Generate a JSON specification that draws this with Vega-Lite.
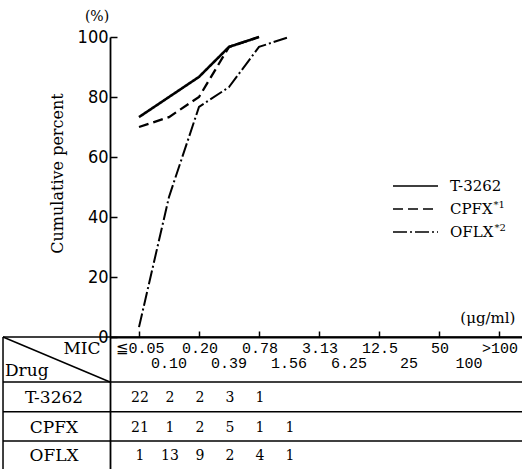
{
  "$schema": "https://vega.github.io/schema/vega-lite/v6.json",
  "autosize": {"type": "none"},
  "padding": {"left": 110, "top": 37, "right": 0, "bottom": 0},
  "width": 412,
  "height": 432,
  "background": "white",
  "config": {
    "view": {"stroke": null},
    "text": {"color": "black", "font": "DejaVu Serif", "baseline": "middle"},
    "rule": {"color": "black", "strokeWidth": 1.5}
  },
  "datasets": {
    "one": [{}],
    "cum": [
      {"drug": "T-3262", "mic": "≦0.05", "col": 0, "pct": 73.3},
      {"drug": "T-3262", "mic": "0.10", "col": 1, "pct": 80.0},
      {"drug": "T-3262", "mic": "0.20", "col": 2, "pct": 86.7},
      {"drug": "T-3262", "mic": "0.39", "col": 3, "pct": 96.7},
      {"drug": "T-3262", "mic": "0.78", "col": 4, "pct": 100.0},
      {"drug": "CPFX", "mic": "≦0.05", "col": 0, "pct": 70.0},
      {"drug": "CPFX", "mic": "0.10", "col": 1, "pct": 73.3},
      {"drug": "CPFX", "mic": "0.20", "col": 2, "pct": 80.0},
      {"drug": "CPFX", "mic": "0.39", "col": 3, "pct": 96.7},
      {"drug": "CPFX", "mic": "0.78", "col": 4, "pct": 100.0},
      {"drug": "OFLX", "mic": "≦0.05", "col": 0, "pct": 3.3},
      {"drug": "OFLX", "mic": "0.10", "col": 1, "pct": 46.7},
      {"drug": "OFLX", "mic": "0.20", "col": 2, "pct": 76.7},
      {"drug": "OFLX", "mic": "0.39", "col": 3, "pct": 83.3},
      {"drug": "OFLX", "mic": "0.78", "col": 4, "pct": 96.7},
      {"drug": "OFLX", "mic": "1.56", "col": 5, "pct": 100.0}
    ],
    "counts": [
      {"drug": "T-3262", "col": 0, "n": 22},
      {"drug": "T-3262", "col": 1, "n": 2},
      {"drug": "T-3262", "col": 2, "n": 2},
      {"drug": "T-3262", "col": 3, "n": 3},
      {"drug": "T-3262", "col": 4, "n": 1},
      {"drug": "CPFX", "col": 0, "n": 21},
      {"drug": "CPFX", "col": 1, "n": 1},
      {"drug": "CPFX", "col": 2, "n": 2},
      {"drug": "CPFX", "col": 3, "n": 5},
      {"drug": "CPFX", "col": 4, "n": 1},
      {"drug": "CPFX", "col": 5, "n": 1},
      {"drug": "OFLX", "col": 0, "n": 1},
      {"drug": "OFLX", "col": 1, "n": 13},
      {"drug": "OFLX", "col": 2, "n": 9},
      {"drug": "OFLX", "col": 3, "n": 2},
      {"drug": "OFLX", "col": 4, "n": 4},
      {"drug": "OFLX", "col": 5, "n": 1}
    ],
    "mic": [
      {"col": 0, "mic": "≦0.05", "tier": "upper"},
      {"col": 1, "mic": "0.10", "tier": "lower"},
      {"col": 2, "mic": "0.20", "tier": "upper"},
      {"col": 3, "mic": "0.39", "tier": "lower"},
      {"col": 4, "mic": "0.78", "tier": "upper"},
      {"col": 5, "mic": "1.56", "tier": "lower"},
      {"col": 6, "mic": "3.13", "tier": "upper"},
      {"col": 7, "mic": "6.25", "tier": "lower"},
      {"col": 8, "mic": "12.5", "tier": "upper"},
      {"col": 9, "mic": "25", "tier": "lower"},
      {"col": 10, "mic": "50", "tier": "upper"},
      {"col": 11, "mic": "100", "tier": "lower"},
      {"col": 12, "mic": ">100", "tier": "upper"}
    ]
  },
  "layer": [
    {
      "data": {"name": "cum"},
      "mark": {"type": "line", "color": "black", "strokeCap": "butt"},
      "encoding": {
        "x": {
          "field": "col", "type": "quantitative",
          "scale": {"domain": [-0.9667, 12.767], "nice": false, "zero": false},
          "axis": {
            "orient": "bottom", "offset": -132, "values": [0,1,2,3,4,5,6,7,8,9,10,11,12],
            "labels": false, "title": null, "grid": false,
            "tickSize": -6, "tickWidth": 1.5, "tickColor": "black",
            "domainColor": "black", "domainWidth": 1.8
          }
        },
        "y": {
          "field": "pct", "type": "quantitative",
          "scale": {"domain": [-44, 100], "nice": false, "zero": false},
          "axis": {
            "values": [0, 20, 40, 60, 80, 100], "grid": false,
            "tickSize": -7, "tickWidth": 1.5, "tickColor": "black",
            "domainColor": "black", "domainWidth": 1.8,
            "labelFont": "Liberation Sans Narrow, DejaVu Sans Condensed, sans-serif",
            "labelFontSize": 18, "labelColor": "black", "labelPadding": 9,
            "title": "Cumulative percent", "titleFont": "DejaVu Serif",
            "titleFontSize": 16, "titleFontWeight": "normal", "titleColor": "black",
            "titleX": -53, "titleY": 136, "titleBaseline": "middle", "titleAlign": "center", "titleAngle": -90
          }
        },
        "strokeDash": {
          "field": "drug", "type": "nominal",
          "scale": {"domain": ["T-3262", "CPFX", "OFLX"], "range": [[1, 0], [10, 5], [14, 3, 2, 3]]},
          "legend": null
        },
        "strokeWidth": {
          "field": "drug", "type": "nominal",
          "scale": {"domain": ["T-3262", "CPFX", "OFLX"], "range": [2.6, 2, 2]},
          "legend": null
        }
      }
    },
    {"data": {"name": "one"}, "mark": "rule", "encoding": {"x": {"datum": -4.533}, "x2": {"datum": 12.767}, "y": {"datum": 0}}},
    {"data": {"name": "one"}, "mark": "rule", "encoding": {"x": {"datum": -4.533}, "x2": {"datum": 12.767}, "y": {"datum": -15}}},
    {"data": {"name": "one"}, "mark": "rule", "encoding": {"x": {"datum": -4.533}, "x2": {"datum": 12.767}, "y": {"datum": -24.9}}},
    {"data": {"name": "one"}, "mark": "rule", "encoding": {"x": {"datum": -4.533}, "x2": {"datum": 12.767}, "y": {"datum": -34.67}}},
    {"data": {"name": "one"}, "mark": "rule", "encoding": {"x": {"datum": -4.533}, "y": {"datum": 0}, "y2": {"datum": -44}}},
    {"data": {"name": "one"}, "mark": "rule", "encoding": {"x": {"datum": -4.533}, "y": {"datum": 0}, "x2": {"datum": -0.9667}, "y2": {"datum": -15}}},
    {
      "data": {"name": "one"},
      "mark": {"type": "text", "fontSize": 17, "align": "center"},
      "encoding": {"x": {"datum": -1.9}, "y": {"datum": -4}, "text": {"value": "MIC"}}
    },
    {
      "data": {"name": "one"},
      "mark": {"type": "text", "fontSize": 17, "align": "left"},
      "encoding": {"x": {"datum": -4.467}, "y": {"datum": -11.3}, "text": {"value": "Drug"}}
    },
    {
      "data": {"name": "mic"},
      "transform": [{"filter": "datum.tier == 'upper'"}],
      "mark": {"type": "text", "font": "Liberation Mono", "fontSize": 15, "align": "center", "dx": 1},
      "encoding": {"x": {"field": "col", "type": "quantitative"}, "y": {"datum": -3.67}, "text": {"field": "mic"}}
    },
    {
      "data": {"name": "mic"},
      "transform": [{"filter": "datum.tier == 'lower'"}],
      "mark": {"type": "text", "font": "Liberation Mono", "fontSize": 15, "align": "center", "dx": 0},
      "encoding": {"x": {"field": "col", "type": "quantitative"}, "y": {"datum": -8.67}, "text": {"field": "mic"}}
    },
    {
      "data": {"name": "counts"},
      "transform": [{"filter": "datum.drug == 'T-3262'"}],
      "mark": {"type": "text", "fontSize": 14, "align": "center", "dx": 1},
      "encoding": {"x": {"field": "col", "type": "quantitative"}, "y": {"datum": -20.2}, "text": {"field": "n"}}
    },
    {
      "data": {"name": "counts"},
      "transform": [{"filter": "datum.drug == 'CPFX'"}],
      "mark": {"type": "text", "fontSize": 14, "align": "center", "dx": 1},
      "encoding": {"x": {"field": "col", "type": "quantitative"}, "y": {"datum": -30.2}, "text": {"field": "n"}}
    },
    {
      "data": {"name": "counts"},
      "transform": [{"filter": "datum.drug == 'OFLX'"}],
      "mark": {"type": "text", "fontSize": 14, "align": "center", "dx": 1},
      "encoding": {"x": {"field": "col", "type": "quantitative"}, "y": {"datum": -39.8}, "text": {"field": "n"}}
    },
    {
      "data": {"name": "counts"},
      "transform": [{"filter": "datum.drug == 'T-3262' && datum.col == 0"}],
      "mark": {"type": "text", "fontSize": 17, "align": "center"},
      "encoding": {"x": {"datum": -2.833}, "y": {"datum": -20.2}, "text": {"field": "drug"}}
    },
    {
      "data": {"name": "counts"},
      "transform": [{"filter": "datum.drug == 'CPFX' && datum.col == 0"}],
      "mark": {"type": "text", "fontSize": 17, "align": "center"},
      "encoding": {"x": {"datum": -2.833}, "y": {"datum": -30.2}, "text": {"field": "drug"}}
    },
    {
      "data": {"name": "counts"},
      "transform": [{"filter": "datum.drug == 'OFLX' && datum.col == 0"}],
      "mark": {"type": "text", "fontSize": 17, "align": "center"},
      "encoding": {"x": {"datum": -2.833}, "y": {"datum": -39.8}, "text": {"field": "drug"}}
    },
    {
      "data": {"name": "cum"},
      "transform": [{"filter": "datum.drug == 'T-3262' && datum.col == 0"}],
      "mark": {"type": "rule", "color": "black", "strokeCap": "butt"},
      "encoding": {
        "x": {"datum": 8.467}, "x2": {"datum": 9.967}, "y": {"datum": 50.33},
        "strokeDash": {"field": "drug", "type": "nominal"},
        "strokeWidth": {"field": "drug", "type": "nominal"}
      }
    },
    {
      "data": {"name": "cum"},
      "transform": [{"filter": "datum.drug == 'CPFX' && datum.col == 0"}],
      "mark": {"type": "rule", "color": "black", "strokeCap": "butt"},
      "encoding": {
        "x": {"datum": 8.467}, "x2": {"datum": 9.967}, "y": {"datum": 42.67},
        "strokeDash": {"field": "drug", "type": "nominal"},
        "strokeWidth": {"field": "drug", "type": "nominal"}
      }
    },
    {
      "data": {"name": "cum"},
      "transform": [{"filter": "datum.drug == 'OFLX' && datum.col == 0"}],
      "mark": {"type": "rule", "color": "black", "strokeCap": "butt"},
      "encoding": {
        "x": {"datum": 8.467}, "x2": {"datum": 9.967}, "y": {"datum": 35.0},
        "strokeDash": {"field": "drug", "type": "nominal"},
        "strokeWidth": {"field": "drug", "type": "nominal"}
      }
    },
    {
      "data": {"name": "cum"},
      "transform": [{"filter": "datum.drug == 'T-3262' && datum.col == 0"}],
      "mark": {"type": "text", "fontSize": 15, "align": "left"},
      "encoding": {"x": {"datum": 10.367}, "y": {"datum": 50.33}, "text": {"field": "drug"}}
    },
    {
      "data": {"name": "cum"},
      "transform": [{"filter": "datum.drug == 'CPFX' && datum.col == 0"}],
      "mark": {"type": "text", "fontSize": 15, "align": "left"},
      "encoding": {"x": {"datum": 10.367}, "y": {"datum": 42.67}, "text": {"field": "drug"}}
    },
    {
      "data": {"name": "cum"},
      "transform": [{"filter": "datum.drug == 'OFLX' && datum.col == 0"}],
      "mark": {"type": "text", "fontSize": 15, "align": "left"},
      "encoding": {"x": {"datum": 10.367}, "y": {"datum": 35.0}, "text": {"field": "drug"}}
    },
    {
      "data": {"name": "one"},
      "mark": {"type": "text", "fontSize": 10, "align": "left"},
      "encoding": {"x": {"datum": 11.82}, "y": {"datum": 44.0}, "text": {"value": "*1"}}
    },
    {
      "data": {"name": "one"},
      "mark": {"type": "text", "fontSize": 10, "align": "left"},
      "encoding": {"x": {"datum": 11.85}, "y": {"datum": 36.3}, "text": {"value": "*2"}}
    },
    {
      "data": {"name": "one"},
      "mark": {"type": "text", "fontSize": 15, "align": "center"},
      "encoding": {"x": {"datum": 11.63}, "y": {"datum": 6.33}, "text": {"value": "(μg/ml)"}}
    },
    {
      "data": {"name": "one"},
      "mark": {"type": "text", "fontSize": 14, "align": "center"},
      "encoding": {"x": {"datum": -1.4}, "y": {"datum": 106.8}, "text": {"value": "(%)"}}
    }
  ]
}
